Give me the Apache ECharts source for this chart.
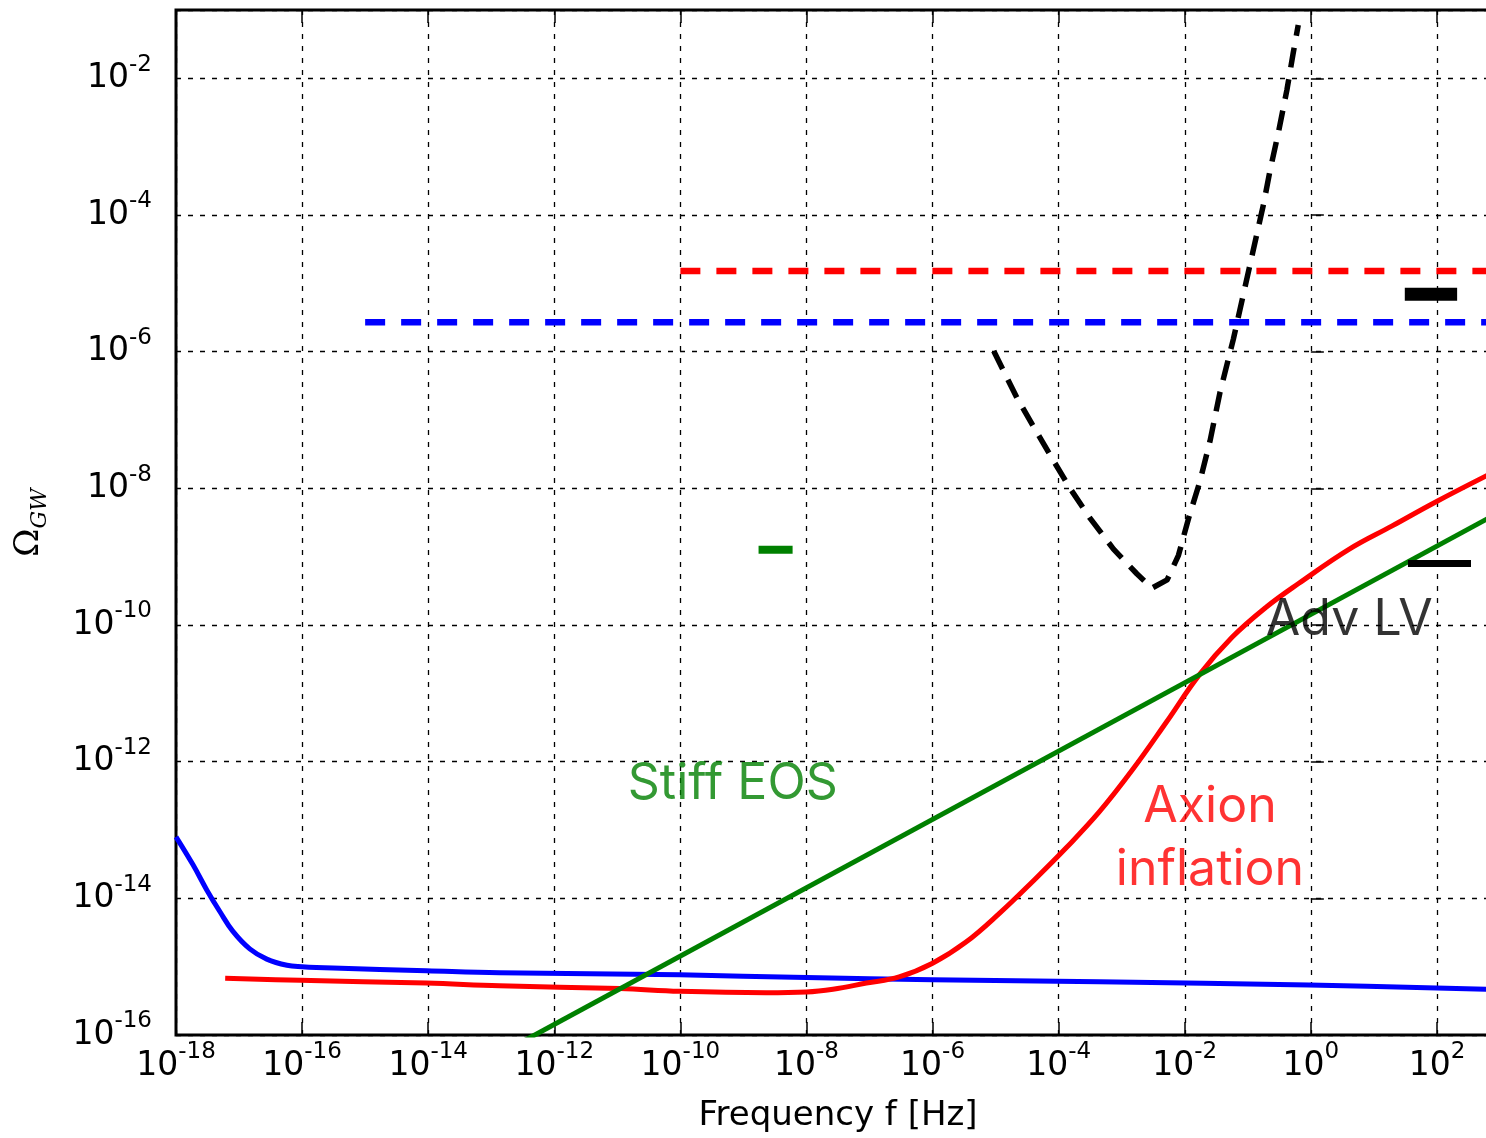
<!DOCTYPE html>
<html>
<head>
<meta charset="utf-8">
<script src="https://cdn.jsdelivr.net/npm/echarts@6/dist/echarts.min.js"></script>
<style>
html,body{margin:0;padding:0;background:#fff;}
#chart{width:1486px;height:1138px;}
</style>
</head>
<body>
<div id="chart"></div>
<script>
// All values are base-10 exponents: log10(f [Hz]) and log10(Omega_GW)
const xRange = [-18, 3];
const yRange = [-16, -1];
const tickStep = 2;

// blue solid curve
const blueLogF     = [-18.0, -17.73, -17.51, -17.30, -17.10, -16.83, -16.56, -16.24, -16.00, -15.51, -14.03, -12.87, -10.01, -8.00, -6.00, -3.36, -0.03, 2.8];
const blueLogOmega = [-13.10, -13.51, -13.88, -14.20, -14.48, -14.74, -14.89, -14.98, -15.00, -15.02, -15.06, -15.09, -15.12, -15.16, -15.19, -15.22, -15.27, -15.33];

// red solid curve (Axion inflation)
const redLogF     = [-17.22, -16.03, -14.03, -12.87, -10.96, -10.01, -8.64, -8.00, -7.58, -7.05, -6.53, -6.00, -5.47, -4.94, -4.42, -3.88, -3.36, -2.83, -2.29, -1.77, -1.25, -0.71, -0.19, 0.61, 1.29, 1.98, 2.8];
const redLogOmega = [-15.17, -15.20, -15.24, -15.28, -15.32, -15.36, -15.38, -15.37, -15.33, -15.24, -15.15, -14.95, -14.64, -14.22, -13.76, -13.26, -12.74, -12.12, -11.42, -10.73, -10.18, -9.74, -9.39, -8.89, -8.55, -8.20, -7.81];

// green straight line (Stiff EOS)
const greenLogF     = [-13.0, 2.8];
const greenLogOmega = [-16.345, -8.445];

// black dashed sensitivity curve
const blackLogF     = [-5.03, -4.66, -4.34, -4.08, -3.82, -3.50, -3.13, -2.76, -2.52, -2.28, -2.10, -1.94, -1.76, -1.60, -1.44, -1.23, -1.07, -0.91, -0.75, -0.65, -0.51, -0.38, -0.28, -0.20];
const blackLogOmega = [-5.99, -6.68, -7.19, -7.60, -8.00, -8.44, -8.89, -9.25, -9.46, -9.34, -8.98, -8.44, -7.90, -7.31, -6.59, -5.82, -5.16, -4.50, -3.84, -3.36, -2.77, -2.17, -1.63, -1.22];

// horizontal dashed bounds
const redDashLogF  = [-10.0, 3.0];
const redDashLogOmega = -4.82;
const blueDashLogF = [-15.0, 3.0];
const blueDashLogOmega = -5.57;

// short bars
const advBarLogF  = [1.49, 2.32];
const advBarLogOmega = -5.16;
const advLVLogF   = [1.54, 2.54];
const advLVLogOmega = -9.10;
const greenBarLogF = [-8.76, -8.22];
const greenBarLogOmega = -8.90;

// text annotations
const annoText  = ['Stiff EOS', 'Axion\ninflation', 'Adv LV'];
const annoLogF  = [-9.17, -1.60, 0.61];
const annoLogOm = [-12.33, -13.12, -9.92];
const annoColor = ['#008000', '#ff0000', '#000000'];

const zip = (xs, ys) => xs.map((x, i) => [x, Array.isArray(ys) ? ys[i] : ys]);

const supLabel = v => '{b|10}{s|' + Math.round(v) + '}';
const labelRich = {
  b: {fontFamily: 'DejaVu Sans', fontSize: 33, color: '#000', lineHeight: 50, verticalAlign: 'middle'},
  s: {fontFamily: 'DejaVu Sans', fontSize: 23, color: '#000', lineHeight: 50, verticalAlign: 'top'}
};
const gridLine = {show: true, lineStyle: {color: '#000', width: 1.3, type: [5, 7]}};
const tick = {show: true, inside: true, length: 13, lineStyle: {color: '#000', width: 1.5}};

const chart = echarts.init(document.getElementById('chart'), null, {renderer: 'canvas'});

function lineSeries(data, color, width, type, extra) {
  return Object.assign({
    type: 'line', data: data, showSymbol: false, symbol: 'none', silent: true,
    clip: true, animation: false,
    lineStyle: {color: color, width: width, type: type || 'solid', cap: 'butt', join: 'round'}
  }, extra || {});
}

const option = {
  animation: false,
  backgroundColor: '#fff',
  grid: {left: 176, top: 10, right: -14, bottom: 103, show: true, borderColor: '#000', borderWidth: 3,
         containLabel: false, outerBoundsMode: 'none'},
  xAxis: [{
    type: 'value', min: xRange[0], max: xRange[1], interval: tickStep, position: 'bottom',
    axisLine: {show: false}, axisTick: tick, splitLine: gridLine,
    axisLabel: {margin: 6, formatter: supLabel, rich: labelRich, showMaxLabel: false, showMinLabel: true},
    name: 'Frequency f [Hz]', nameLocation: 'middle', nameGap: 64,
    nameTextStyle: {fontFamily: 'DejaVu Sans', fontSize: 34, color: '#000'}
  }, {
    type: 'value', min: xRange[0], max: xRange[1], interval: tickStep, position: 'top',
    axisLine: {show: false}, axisTick: tick, splitLine: {show: false}, axisLabel: {show: false}
  }],
  yAxis: [{
    type: 'value', min: yRange[0], max: yRange[1], interval: tickStep, position: 'left',
    axisLine: {show: false}, axisTick: tick, splitLine: gridLine,
    axisLabel: {margin: 24, formatter: supLabel, rich: labelRich, showMaxLabel: false, showMinLabel: true},
    name: '{o|\u03A9}{g|GW}', nameLocation: 'middle', nameRotate: 90, nameGap: 125,
    nameTextStyle: {
      rich: {
        o: {fontFamily: 'DejaVu Serif', fontSize: 34, color: '#000', lineHeight: 44, verticalAlign: 'middle'},
        g: {fontFamily: 'DejaVu Serif', fontStyle: 'italic', fontSize: 22, color: '#000', lineHeight: 44, verticalAlign: 'bottom'}
      }
    }
  }],
  series: [
    lineSeries(zip(blueLogF, blueLogOmega), '#0000ff', 5, 'solid', {smooth: 0.4}),
    lineSeries(zip(redLogF, redLogOmega), '#ff0000', 5, 'solid', {smooth: 0.4}),
    lineSeries(zip(greenLogF, greenLogOmega), '#008000', 5),
    lineSeries(zip(redDashLogF, redDashLogOmega), '#ff0000', 6.5, [20, 16]),
    lineSeries(zip(blueDashLogF, blueDashLogOmega), '#0000ff', 6.5, [20, 16]),
    lineSeries(zip(blackLogF, blackLogOmega), '#000000', 5.5, [20, 12]),
    lineSeries(zip(advBarLogF, advBarLogOmega), '#000000', 13),
    lineSeries(zip(advLVLogF, advLVLogOmega), '#000000', 7),
    lineSeries(zip(greenBarLogF, greenBarLogOmega), '#008000', 8),
    {
      type: 'scatter', silent: true, animation: false, symbolSize: 0, z: 10,
      data: annoText.map((t, i) => ({
        value: [annoLogF[i], annoLogOm[i]],
        label: {show: true, position: 'inside', formatter: t, color: annoColor[i],
                fontFamily: 'Inter', fontWeight: 400, fontSize: 50, lineHeight: 63, align: 'center', verticalAlign: 'middle'}
      }))
    }
  ]
};
chart.setOption(option);
</script>
</body>
</html>
